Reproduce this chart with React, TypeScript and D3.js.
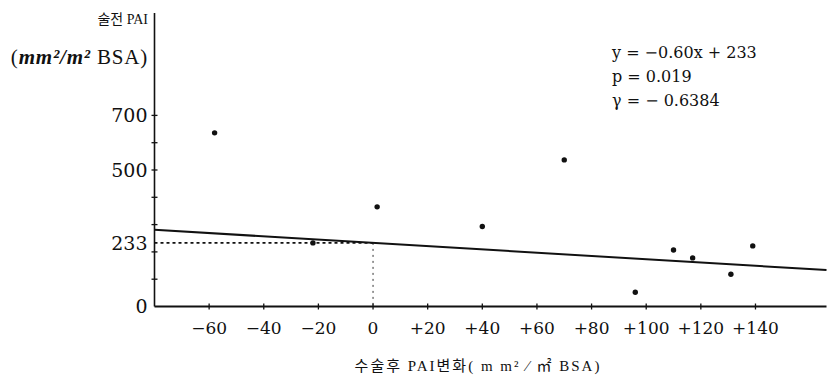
import * as d3 from "d3";

const W = 827;
const H = 380;

// scatter: change in PAI after surgery vs. pre-op PAI
const changeX = [-58, -22, 1.5, 40, 70, 96, 110, 117, 131, 139];
const preOpY = [636, 233, 365, 293, 537, 52, 207, 178, 118, 222];

const xTicks = [-60, -40, -20, 0, 20, 40, 60, 80, 100, 120, 140];
const yTicks = [100, 200, 300, 400, 500, 600, 700];
const yLabels = [0, 233, 500, 700];

const slope = -0.6;
const intercept = 233;

const equationLines = ["y = −0.60x + 233", "p = 0.019", "γ = − 0.6384"];

const serif = "'DejaVu Serif', 'Noto Sans CJK KR', serif";
const korean = "'Liberation Serif', 'Noto Sans CJK KR', serif";

const fmtX = (v: number) => (v > 0 ? `+${v}` : v < 0 ? `−${Math.abs(v)}` : "0");

export default function App() {
  const x = d3.scaleLinear().domain([-80, 166]).range([154.5, 826.5]);
  const y = d3.scaleLinear().domain([0, 700]).range([306.5, 115.4]);

  const xMin = -80;
  const xMax = 166;
  const axisTop = 13;

  const fit = d3
    .line<number>()
    .x((d) => x(d))
    .y((d) => y(slope * d + intercept));

  return (
    <svg
      width={W}
      height={H}
      style={{ position: "absolute", left: 0, top: 0, background: "#fff" }}
      fontFamily={serif}
    >
      {/* y axis */}
      <line x1={x(xMin)} x2={x(xMin)} y1={axisTop} y2={y(0)} stroke="#111" strokeWidth={1.6} />
      {yTicks.map((t) => (
        <line key={t} x1={x(xMin) - 3} x2={x(xMin) + 3} y1={y(t)} y2={y(t)} stroke="#111" strokeWidth={1.3} />
      ))}
      {yLabels.map((t) => (
        <text key={t} x={x(xMin) - 7} y={y(t)} dy="0.36em" textAnchor="end" fontSize={19} fill="#111">
          {t}
        </text>
      ))}

      {/* x axis */}
      <line x1={x(xMin)} x2={x(xMax)} y1={y(0)} y2={y(0)} stroke="#111" strokeWidth={2} />
      {xTicks.map((t) => (
        <line key={t} x1={x(t)} x2={x(t)} y1={y(0) - 3} y2={y(0) + 3} stroke="#111" strokeWidth={1.3} />
      ))}
      {xTicks.map((t) => (
        <text key={"l" + t} x={x(t)} y={y(0) + 27} textAnchor="middle" fontSize={17} fill="#111">
          {fmtX(t)}
        </text>
      ))}

      {/* guide lines at the intercept */}
      <line
        x1={x(xMin)}
        x2={x(0)}
        y1={y(intercept)}
        y2={y(intercept)}
        stroke="#111"
        strokeWidth={1.6}
        strokeDasharray="3,3"
      />
      <line
        x1={x(0)}
        x2={x(0)}
        y1={y(intercept)}
        y2={y(0)}
        stroke="#333"
        strokeWidth={1}
        strokeDasharray="2,4"
      />

      {/* regression line */}
      <path d={fit([xMin, xMax]) ?? ""} fill="none" stroke="#111" strokeWidth={2} />

      {changeX.map((v, i) => (
        <circle key={i} cx={x(v)} cy={y(preOpY[i])} r={2.7} fill="#111" />
      ))}

      {/* y axis title */}
      <text x={148} y={24} textAnchor="end" fontSize={14} fill="#111" fontFamily={korean}>
        술전 PAI
      </text>
      <text
        x={148}
        y={64}
        textAnchor="end"
        fontSize={21}
        letterSpacing={0.8}
        fill="#111"
        fontFamily={korean}
      >
        (<tspan fontStyle="italic" fontWeight="bold">mm²/m²</tspan> BSA)
      </text>

      {/* equation */}
      {equationLines.map((s, i) => (
        <text key={s} x={612} y={58 + i * 24} fontSize={16} fill="#111">
          {s}
        </text>
      ))}

      {/* x axis title */}
      <text
        x={478}
        y={371}
        textAnchor="middle"
        fontSize={15}
        letterSpacing={2}
        fill="#111"
        fontFamily={korean}
      >
        수술후 PAI변화( m m² ⁄ ㎡ BSA)
      </text>
    </svg>
  );
}
